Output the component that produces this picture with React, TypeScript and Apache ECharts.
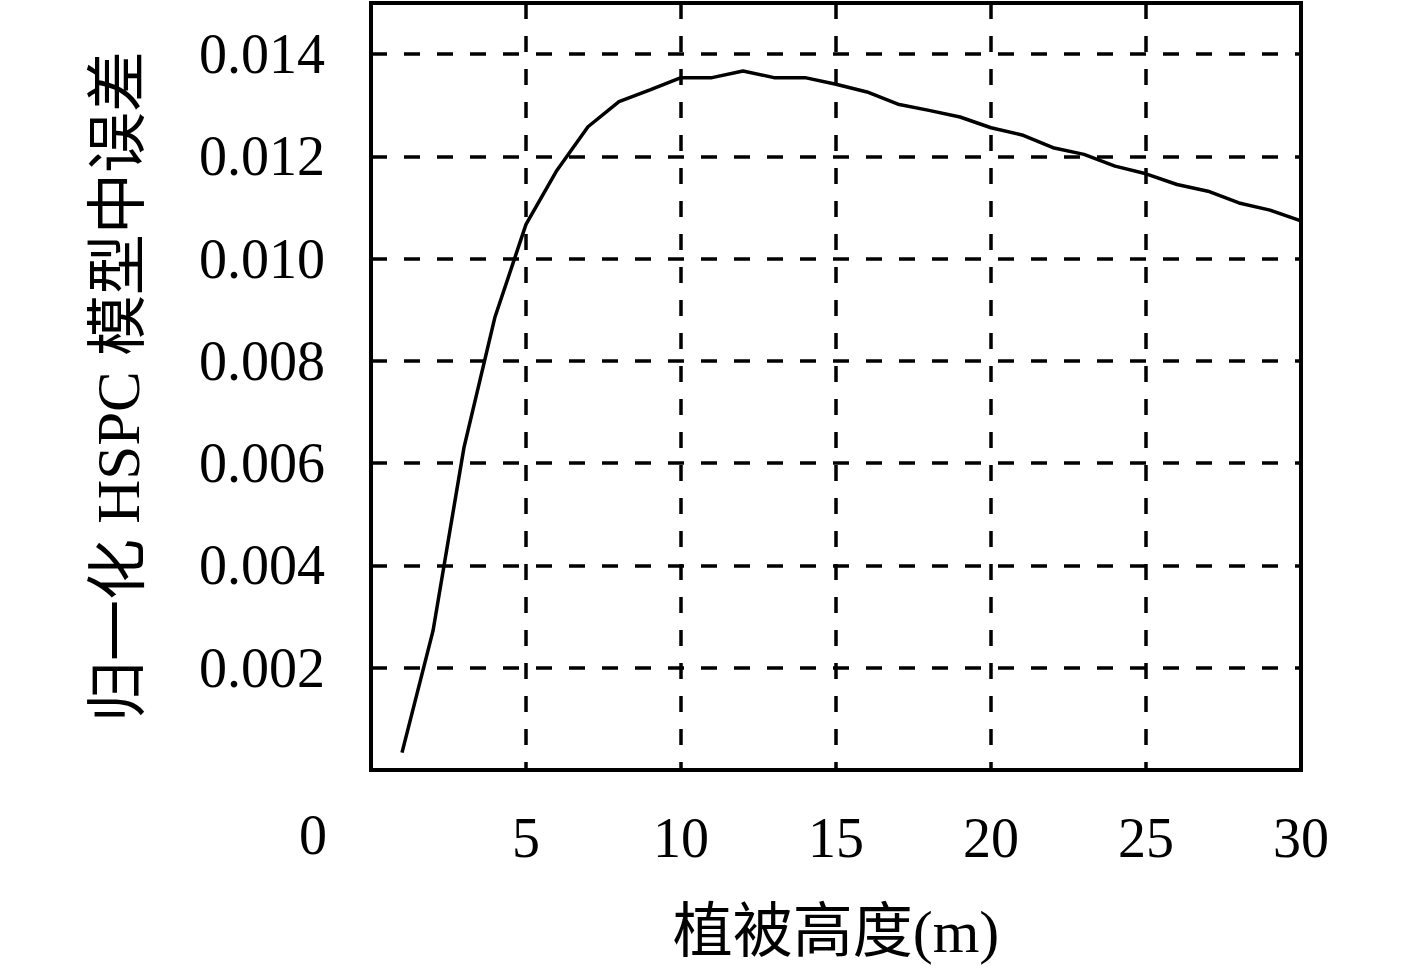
import React, { useEffect, useRef } from "react";
import * as echarts from "echarts";

// vegetation height (m)
const heights = [1, 2, 3, 4, 5, 6, 7, 8, 9, 10, 11, 12, 13, 14, 15, 16, 17, 18, 19, 20, 21, 22, 23, 24, 25, 26, 27, 28, 29, 30];
// normalized HSPC model RMSE
const errors = [
  0.00034, 0.00272, 0.00631, 0.00886, 0.01067, 0.01173, 0.01258, 0.01307, 0.0133, 0.01354,
  0.01354, 0.01367, 0.01354, 0.01354, 0.01341, 0.01326, 0.01302, 0.0129, 0.01277, 0.01256,
  0.01242, 0.01217, 0.01204, 0.01181, 0.01166, 0.01145, 0.01132, 0.01109, 0.01095, 0.01074,
];

const xName = "植被高度(m)";
const yName = "归一化 HSPC 模型中误差";

const font = "'Liberation Serif', 'Noto Sans CJK SC', serif";

export default function App() {
  const chartRef = useRef<HTMLDivElement>(null);

  useEffect(() => {
    if (!chartRef.current) return;
    const chart = echarts.init(chartRef.current, null, { renderer: "svg" });

    const dashed = { color: "#000", width: 3.5, type: [16, 17] as number[] };

    chart.setOption({
      animation: false,
      backgroundColor: "#fff",
      textStyle: { fontFamily: font },
      grid: {
        show: true,
        left: 371,
        top: 3,
        width: 930,
        height: 767,
        borderColor: "#000",
        borderWidth: 4,
        backgroundColor: "transparent",
      },
      xAxis: {
        type: "value",
        min: 0,
        max: 30,
        interval: 5,
        name: xName,
        nameLocation: "middle",
        nameGap: 132,
        nameTextStyle: { fontSize: 60, color: "#000", fontFamily: font },
        axisLine: { show: false },
        axisTick: { show: false },
        axisLabel: {
          fontSize: 56,
          color: "#000",
          fontFamily: font,
          margin: 40,
          formatter: (v: number) => (v === 0 ? "" : String(v)),
        },
        splitLine: { show: true, lineStyle: dashed },
      },
      yAxis: {
        type: "value",
        min: 0,
        max: 0.015,
        interval: 0.002,
        name: yName,
        nameLocation: "middle",
        nameGap: 222,
        nameTextStyle: { fontSize: 61, color: "#000", fontFamily: font },
        axisLine: { show: false },
        axisTick: { show: false },
        axisLabel: {
          fontSize: 56,
          color: "#000",
          fontFamily: font,
          margin: 46,
          showMaxLabel: false,
          formatter: (v: number) => (v === 0 || v > 0.0145 ? "" : v.toFixed(3)),
        },
        splitLine: { show: true, lineStyle: dashed },
      },
      graphic: [
        {
          type: "text",
          x: 313,
          y: 835,
          style: {
            text: "0",
            fontSize: 56,
            fontFamily: font,
            fill: "#000",
            align: "center",
            verticalAlign: "middle",
          },
        },
      ],
      series: [
        {
          type: "line",
          data: heights.map((h, i) => [h, errors[i]]),
          showSymbol: false,
          lineStyle: { color: "#000", width: 3.5 },
        },
      ],
    });

    return () => {
      chart.dispose();
    };
  }, []);

  return (
    <div
      ref={chartRef}
      style={{ position: "fixed", left: 0, top: 0, width: 1417, height: 971 }}
    />
  );
}
